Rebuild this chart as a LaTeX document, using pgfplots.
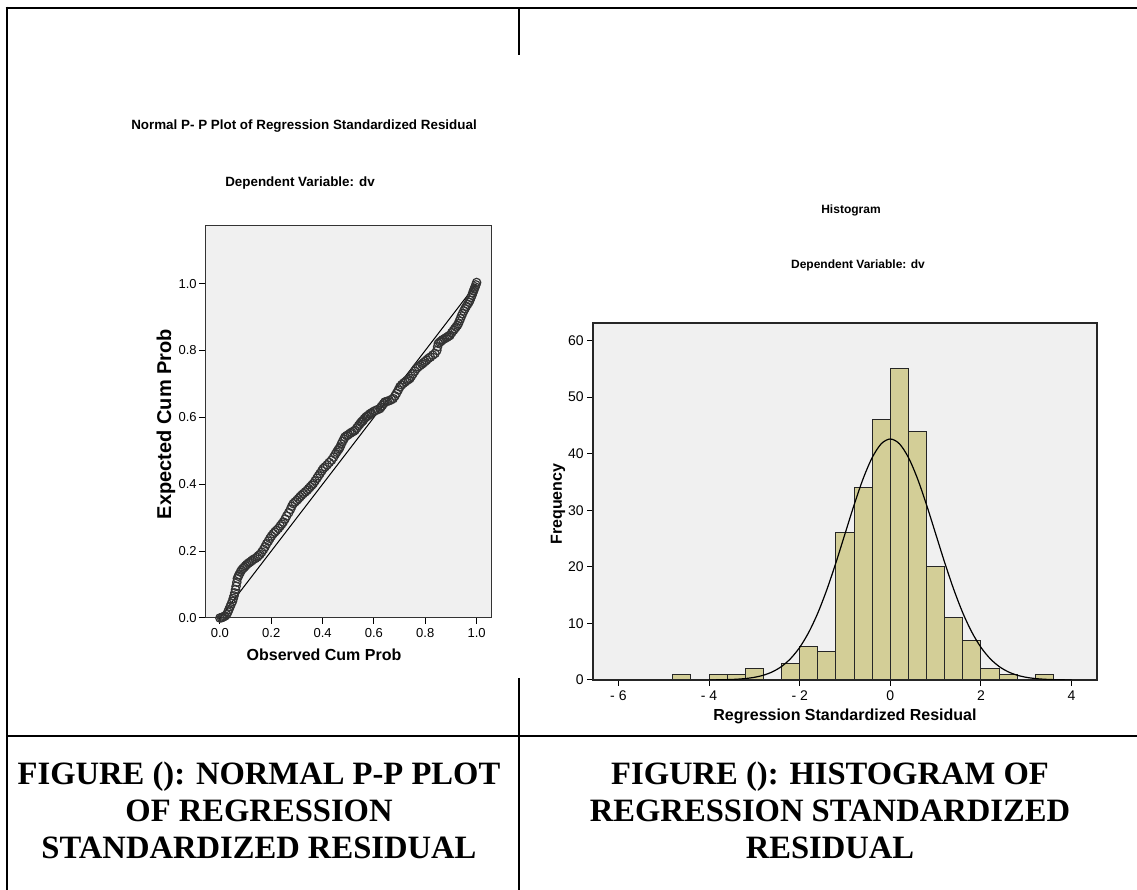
\documentclass[border=0pt]{standalone}
\usepackage{pgfplots}
\pgfplotsset{compat=1.18}
\usepackage{fontspec}
\setmainfont{Liberation Serif}
\newfontfamily\arial{Liberation Sans}
\definecolor{bartan}{RGB}{211,206,151}
\definecolor{plotbg}{RGB}{240,240,240}

\begin{document}
\begin{tikzpicture}
\path[use as bounding box] (0,0) rectangle (568.5pt,445pt);
% table rules
\draw[line width=1.3pt] (2.85pt,441pt) -- (568.5pt,441pt);
\draw[line width=1.3pt] (3.5pt,441.65pt) -- (3.5pt,0pt);
\draw[line width=1.2pt] (259.5pt,441pt) -- (259.5pt,417.5pt);
\draw[line width=1.2pt] (259.5pt,106pt) -- (259.5pt,0pt);
\draw[line width=1.2pt] (3.5pt,77pt) -- (268pt,77pt);
\draw[line width=0.7pt] (268pt,77pt) -- (568.5pt,77pt);

% ---------------- P-P plot ----------------
\begin{axis}[
  at={(102.5pt,136pt)}, anchor=south west, scale only axis,
  width=143pt, height=196pt,
  xmin=-0.058, xmax=1.056, ymin=0, ymax=1.172,
  axis background/.style={fill=plotbg},
  axis line style={black!80, line width=0.5pt},
  xtick={0,0.2,0.4,0.6,0.8,1}, ytick={0,0.2,0.4,0.6,0.8,1},
  xticklabels={0.0,0.2,0.4,0.6,0.8,1.0},
  yticklabels={0.0,0.2,0.4,0.6,0.8,1.0},
  tick align=outside, xtick pos=bottom, ytick pos=left,
  major tick length=3pt,
  tick style={black, line width=0.5pt},
  tick label style={font=\arial\fontsize{6.5}{7}\selectfont},
  yticklabel style={inner sep=1pt},
  xticklabel style={inner sep=2pt},
]
\addplot[black, line width=0.5pt] coordinates {(0,0) (1,1)};
\addplot[only marks, mark=o, mark size=2.1pt, mark options={draw=black!80, line width=0.6pt}] coordinates {
(0.000,0.000) (0.006,0.001) (0.010,0.002) (0.015,0.004) (0.020,0.006) (0.026,0.010)
(0.031,0.018) (0.035,0.025) (0.040,0.034) (0.045,0.043) (0.049,0.050)
(0.052,0.058) (0.055,0.066) (0.058,0.075) (0.061,0.085) (0.063,0.095) (0.066,0.107)
(0.068,0.118) (0.072,0.125) (0.075,0.130) (0.080,0.137) (0.084,0.143) (0.090,0.148)
(0.095,0.152) (0.100,0.156) (0.105,0.160) (0.111,0.164) (0.117,0.167) (0.124,0.171)
(0.130,0.175) (0.138,0.178) (0.145,0.182) (0.150,0.186) (0.156,0.190) (0.163,0.197)
(0.170,0.205) (0.176,0.213) (0.182,0.222) (0.189,0.230) (0.195,0.238) (0.201,0.245)
(0.208,0.252) (0.214,0.257) (0.220,0.262) (0.228,0.268) (0.235,0.275) (0.241,0.281)
(0.247,0.287) (0.254,0.296) (0.260,0.305) (0.268,0.315) (0.275,0.325) (0.280,0.334)
(0.286,0.342) (0.293,0.347) (0.300,0.352) (0.306,0.357) (0.312,0.362) (0.318,0.367)
(0.325,0.372) (0.333,0.377) (0.340,0.382) (0.346,0.387) (0.352,0.392) (0.358,0.397)
(0.364,0.402) (0.371,0.410) (0.378,0.418) (0.384,0.425) (0.390,0.432) (0.397,0.440)
(0.403,0.447) (0.410,0.452) (0.418,0.458) (0.426,0.465) (0.435,0.472) (0.443,0.481)
(0.450,0.490) (0.455,0.496) (0.460,0.502) (0.464,0.506) (0.468,0.511) (0.473,0.520)
(0.478,0.528) (0.483,0.535) (0.487,0.541) (0.494,0.545) (0.500,0.548) (0.507,0.552)
(0.513,0.555) (0.520,0.558) (0.526,0.561) (0.533,0.568) (0.540,0.575) (0.545,0.580)
(0.550,0.585) (0.554,0.588) (0.558,0.591) (0.563,0.596) (0.568,0.600) (0.573,0.603)
(0.578,0.606) (0.584,0.610) (0.590,0.613) (0.598,0.617) (0.605,0.620) (0.614,0.623)
(0.623,0.626) (0.628,0.631) (0.633,0.636) (0.638,0.641) (0.643,0.646) (0.652,0.648)
(0.660,0.650) (0.668,0.653) (0.675,0.656) (0.682,0.664) (0.688,0.672) (0.695,0.682)
(0.701,0.691) (0.708,0.697) (0.715,0.702) (0.722,0.706) (0.728,0.710) (0.734,0.713)
(0.740,0.716) (0.746,0.723) (0.752,0.730) (0.759,0.738) (0.766,0.746) (0.773,0.751)
(0.780,0.755) (0.787,0.759) (0.793,0.763) (0.799,0.767) (0.805,0.771) (0.812,0.776)
(0.820,0.780) (0.829,0.786) (0.838,0.791) (0.845,0.800) (0.848,0.811)
(0.851,0.821) (0.857,0.825) (0.862,0.828) (0.868,0.832) (0.875,0.835) (0.881,0.838)
(0.886,0.840) (0.891,0.843) (0.896,0.845) (0.903,0.853) (0.910,0.860) (0.915,0.865)
(0.920,0.870) (0.925,0.875) (0.929,0.880) (0.933,0.888) (0.937,0.895) (0.941,0.903)
(0.945,0.910) (0.950,0.918) (0.955,0.925) (0.960,0.932) (0.965,0.938) (0.970,0.944)
(0.974,0.950) (0.978,0.958) (0.982,0.965) (0.985,0.972) (0.988,0.978) (0.991,0.984)
(0.994,0.990) (0.997,0.996) (1.000,1.003)
};
\end{axis}

% ---------------- Histogram ----------------
\begin{axis}[
  at={(296.5pt,105pt)}, anchor=south west, scale only axis,
  width=252pt, height=178.5pt,
  xmin=-6.56, xmax=4.56, ymin=0, ymax=63.1,
  axis background/.style={fill=plotbg},
  axis line style={black!85, line width=0.6pt},
  xtick={-6,-4,-2,0,2,4}, xticklabels={- 6,- 4,- 2,0,2,4},
  ytick={0,10,20,30,40,50,60},
  /pgf/number format/assume math mode=true,
  tick align=outside, xtick pos=bottom, ytick pos=left,
  major tick length=3pt,
  tick style={black, line width=0.5pt},
  tick label style={font=\arial\fontsize{7}{8}\selectfont},
  yticklabel style={inner sep=1.5pt},
  xticklabel style={inner sep=2pt},
]
\addplot[ybar, bar width=0.4, fill=bartan, draw=black!85, line width=0.5pt] coordinates {
(-4.6,1) (-3.8,1) (-3.4,1) (-3.0,2) (-2.2,3) (-1.8,6) (-1.4,5) (-1.0,26) (-0.6,34)
(-0.2,46) (0.2,55) (0.6,44) (1.0,20) (1.4,11) (1.8,7) (2.2,2) (2.6,1) (3.4,1)
};
\addplot[black, line width=0.6pt, smooth] coordinates {
(-4.0,0.014) (-3.8,0.031) (-3.6,0.065) (-3.4,0.132) (-3.2,0.255) (-3.0,0.473)
(-2.8,0.845) (-2.6,1.45) (-2.4,2.39) (-2.2,3.79) (-2.0,5.76) (-1.8,8.43)
(-1.6,11.84) (-1.4,15.99) (-1.2,20.74) (-1.0,25.84) (-0.8,30.93) (-0.6,35.58)
(-0.4,39.32) (-0.2,41.76) (0,42.6) (0.2,41.76) (0.4,39.32) (0.6,35.58)
(0.8,30.93) (1.0,25.84) (1.2,20.74) (1.4,15.99) (1.6,11.84) (1.8,8.43)
(2.0,5.76) (2.2,3.79) (2.4,2.39) (2.6,1.45) (2.8,0.845) (3.0,0.473)
(3.2,0.255) (3.4,0.132) (3.6,0.065) (3.8,0.031) (4.0,0.014)
};
\end{axis}

% ---------------- chart texts ----------------
\node[anchor=base, inner sep=0pt, font=\arial\bfseries\fontsize{6.7}{8}\selectfont]
  at (152pt,380pt) {Normal P- P Plot of Regression Standardized Residual};
\node[anchor=base, inner sep=0pt, font=\arial\bfseries\fontsize{6.7}{8}\selectfont]
  at (150pt,351.5pt) {Dependent Variable: dv};
\node[anchor=base, inner sep=0pt, font=\arial\bfseries\fontsize{8}{9}\selectfont]
  at (162pt,114.5pt) {Observed Cum Prob};
\node[rotate=90, anchor=center, inner sep=0pt, font=\arial\bfseries\fontsize{10}{11}\selectfont]
  at (83pt,233pt) {Expected Cum Prob};

\node[anchor=base, inner sep=0pt, font=\arial\bfseries\fontsize{6}{7}\selectfont]
  at (425.5pt,338pt) {Histogram};
\node[anchor=base, inner sep=0pt, font=\arial\bfseries\fontsize{6}{7}\selectfont]
  at (429pt,310.5pt) {Dependent Variable: dv};
\node[anchor=base, inner sep=0pt, font=\arial\bfseries\fontsize{8}{9}\selectfont]
  at (422.5pt,84.5pt) {Regression Standardized Residual};
\node[rotate=90, anchor=center, inner sep=0pt, font=\arial\bfseries\fontsize{8}{9}\selectfont]
  at (279pt,193pt) {Frequency};

% ---------------- captions ----------------
\begin{scope}[every node/.style={anchor=base, inner sep=0pt, font=\bfseries\fontsize{16.3}{18}\selectfont}]
\node at (129.5pt,52.5pt) {FIGURE (): NORMAL P-P PLOT};
\node at (129.5pt,34pt) {OF REGRESSION};
\node at (129.5pt,15.5pt) {STANDARDIZED RESIDUAL};
\node at (415pt,52.5pt) {FIGURE (): HISTOGRAM OF};
\node at (415pt,34pt) {REGRESSION STANDARDIZED};
\node at (415pt,15.5pt) {RESIDUAL};
\end{scope}
\end{tikzpicture}
\end{document}
